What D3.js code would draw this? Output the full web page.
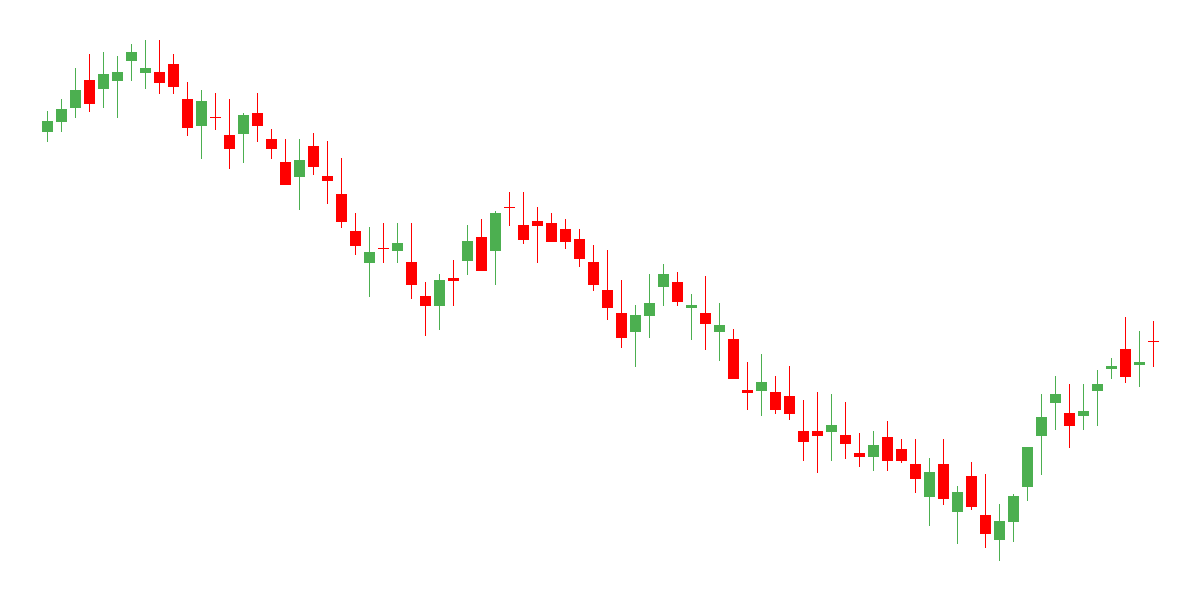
<!DOCTYPE html>
<html>
<head>
<meta charset="utf-8">
<script src="https://cdn.jsdelivr.net/npm/d3@7"></script>
<style>
  html, body { margin: 0; padding: 0; background: #fff; }
</style>
</head>
<body>
<svg id="chart" width="1200" height="600"></svg>
<script>
// OHLC values, one entry per candle
var opens = [468.3, 478.3, 492.3, 520, 511.3, 519.3, 539.3, 527.3, 528, 536,
    501, 474.3, 483, 465, 466.3, 487, 461, 438, 423.3, 454,
    424, 406, 369, 337.3, 351.9, 349.3, 338, 304, 294.3, 322,
    339.3, 363, 349.3, 392.9, 375, 379, 377, 371, 361, 338,
    310, 287, 268.3, 284.3, 313.3, 318, 292.3, 287, 268.3, 261,
    210, 209.3, 208, 204, 169, 169, 168.3, 165, 147, 143.3,
    163, 151, 136, 103.3, 136, 88.3, 124, 85, 60.3, 78.3,
    113.3, 164.3, 197.3, 187, 184.3, 209.3, 231.3, 251, 235.3, 258.9];
var highs = [489, 501, 532, 546, 548, 544, 556, 560, 560, 546,
    518, 510, 507, 501, 487, 507, 471, 461, 461, 467,
    459, 442, 387, 373, 377, 377, 377, 318, 326, 340,
    375, 381, 389, 408, 408, 393, 387, 381, 371, 355,
    350, 320, 295, 326, 336, 328, 306, 324, 297, 271,
    238, 246, 224, 234, 200, 208, 206, 198, 167, 169,
    179, 161, 161, 142, 161, 114, 138, 126, 96, 106,
    153, 206, 224, 216, 216, 230, 242, 283, 269, 279];
var lows = [458.3, 468.3, 482.3, 488.3, 492.3, 482.3, 519.3, 511.3, 506.3, 506.3,
    464.3, 441.3, 470.3, 431.3, 437.3, 458.3, 441.3, 415.3, 390.3, 425.3,
    396.3, 372.3, 345.3, 303.3, 337.3, 337.3, 301.3, 264.3, 270.3, 294.3,
    325.3, 329.3, 315.3, 374.3, 356.3, 337.3, 358.3, 351.3, 333.3, 309.3,
    280.3, 252.3, 233.3, 262.3, 294.3, 294.3, 260.3, 250.3, 239.3, 221.3,
    190.3, 184.3, 186.3, 180.3, 139.3, 127.3, 139.3, 141.3, 133.3, 129.3,
    129.3, 137.3, 107.3, 74.3, 95.3, 56.3, 90.3, 52.3, 39.3, 58.3,
    99.3, 125.3, 170.3, 152.3, 170.3, 174.3, 221.3, 217.3, 213.3, 233.3];
var closes = [479, 491, 510, 496.3, 526, 528, 548, 532, 517.3, 513.3,
    472.3, 499, 482.6, 451.3, 485, 474.3, 451.3, 415.3, 440, 433.3,
    419.3, 378.3, 354.3, 348, 351.6, 357, 315.3, 294.3, 320, 319.3,
    359, 329.3, 387, 392.5, 360.3, 374.3, 358.3, 358.3, 341.3, 315.3,
    292.3, 262.3, 285, 297, 326, 298.3, 295, 276.3, 275, 221.3,
    207.3, 218, 190.3, 186.3, 158.3, 164.3, 175, 156.3, 143.3, 155,
    139.3, 139.3, 121.3, 128, 101.3, 108, 93.3, 66.3, 79, 104,
    153, 183, 206, 174.3, 189, 216, 234, 223.3, 238, 258.5];

var upColor = "#4caf50",
    downColor = "#ff0000";

var width = 1200,
    height = 600;

var svg = d3.select("#chart");

var x = d3.scaleBand()
    .domain(d3.range(opens.length))
    .range([40.33, 1160.33])
    .paddingInner(0.2)
    .paddingOuter(0.1);

var y = d3.scaleLinear()
    .domain([0, 600])
    .range([height, 0]);

var candles = svg.append("g")
    .attr("class", "candles")
    .attr("shape-rendering", "crispEdges")
    .selectAll("g")
    .data(d3.range(opens.length))
    .enter().append("g")
    .attr("fill", function (i) { return closes[i] > opens[i] ? upColor : downColor; })
    .attr("stroke", function (i) { return closes[i] > opens[i] ? upColor : downColor; });

// wicks
candles.append("line")
    .attr("x1", function (i) { return Math.round(x(i) + x.bandwidth() / 2) + 0.5; })
    .attr("x2", function (i) { return Math.round(x(i) + x.bandwidth() / 2) + 0.5; })
    .attr("y1", function (i) { return y(highs[i]); })
    .attr("y2", function (i) { return y(lows[i]); })
    .attr("stroke-width", 1);

// bodies
candles.append("rect")
    .attr("x", function (i) { return x(i); })
    .attr("width", x.bandwidth())
    .attr("y", function (i) { return y(Math.max(opens[i], closes[i])); })
    .attr("height", function (i) {
        return Math.max(1, Math.abs(y(opens[i]) - y(closes[i])));
    })
    .attr("stroke", "none");
</script>
</body>
</html>
